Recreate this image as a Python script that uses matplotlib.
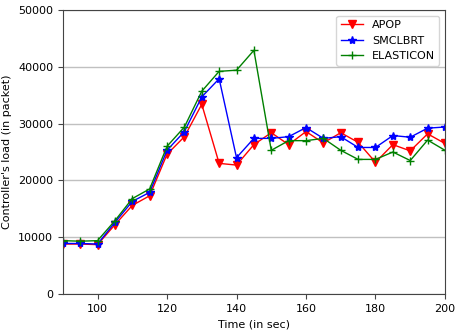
import numpy as np
import matplotlib.pyplot as plt

# ------------------------------------------------------------
# Datos
# ------------------------------------------------------------
tiempo = list(range(90, 201, 5))

apop = [8800, 8800, 8700, 12200, 15600, 17300, 24600, 27700, 33400, 23000,
        22700, 26300, 28400, 26300, 28600, 26600, 28400, 26700, 23200, 26300,
        25200, 28200, 26500]

smclbrt = [8900, 8900, 8800, 12600, 16300, 17900, 25300, 28600, 34700, 37900,
           24000, 27400, 27400, 27700, 29300, 27400, 27700, 25800, 25800, 27900,
           27600, 29200, 29400]

elasticon = [9400, 9300, 9400, 12900, 16800, 18500, 26000, 29400, 35700, 39200,
             39400, 42900, 25300, 27000, 27000, 27400, 25300, 23700, 23700, 25000,
             23500, 27100, 25300]

# ------------------------------------------------------------
# Gráfica
# ------------------------------------------------------------
plt.rcParams['font.size'] = 8

fig = plt.figure(figsize=(4.55, 3.33), dpi=100)
ax = fig.add_axes([0.138, 0.117, 0.840, 0.853])

ax.plot(tiempo, apop, color='red', marker='v', markersize=6,
        linewidth=1, label='APOP')
ax.plot(tiempo, smclbrt, color='blue', marker='*', markersize=6,
        linewidth=1, label='SMCLBRT')
ax.plot(tiempo, elasticon, color='green', marker='+', markersize=6,
        linewidth=1, label='ELASTICON')

ax.set_xlim(90, 200)
ax.set_ylim(0, 50000)
ax.set_xticks([100, 120, 140, 160, 180, 200])
ax.set_yticks([0, 10000, 20000, 30000, 40000, 50000])

ax.yaxis.grid(True, color='#c0c0c0', linewidth=1)
ax.set_axisbelow(True)

for s in ax.spines.values():
    s.set_color('#444444')
ax.tick_params(color='#444444')

ax.set_xlabel("Time (in sec)")
ax.set_ylabel("Controller's load (in packet)")

ax.legend(loc='upper right')

fig.savefig('out.png', dpi=100)
